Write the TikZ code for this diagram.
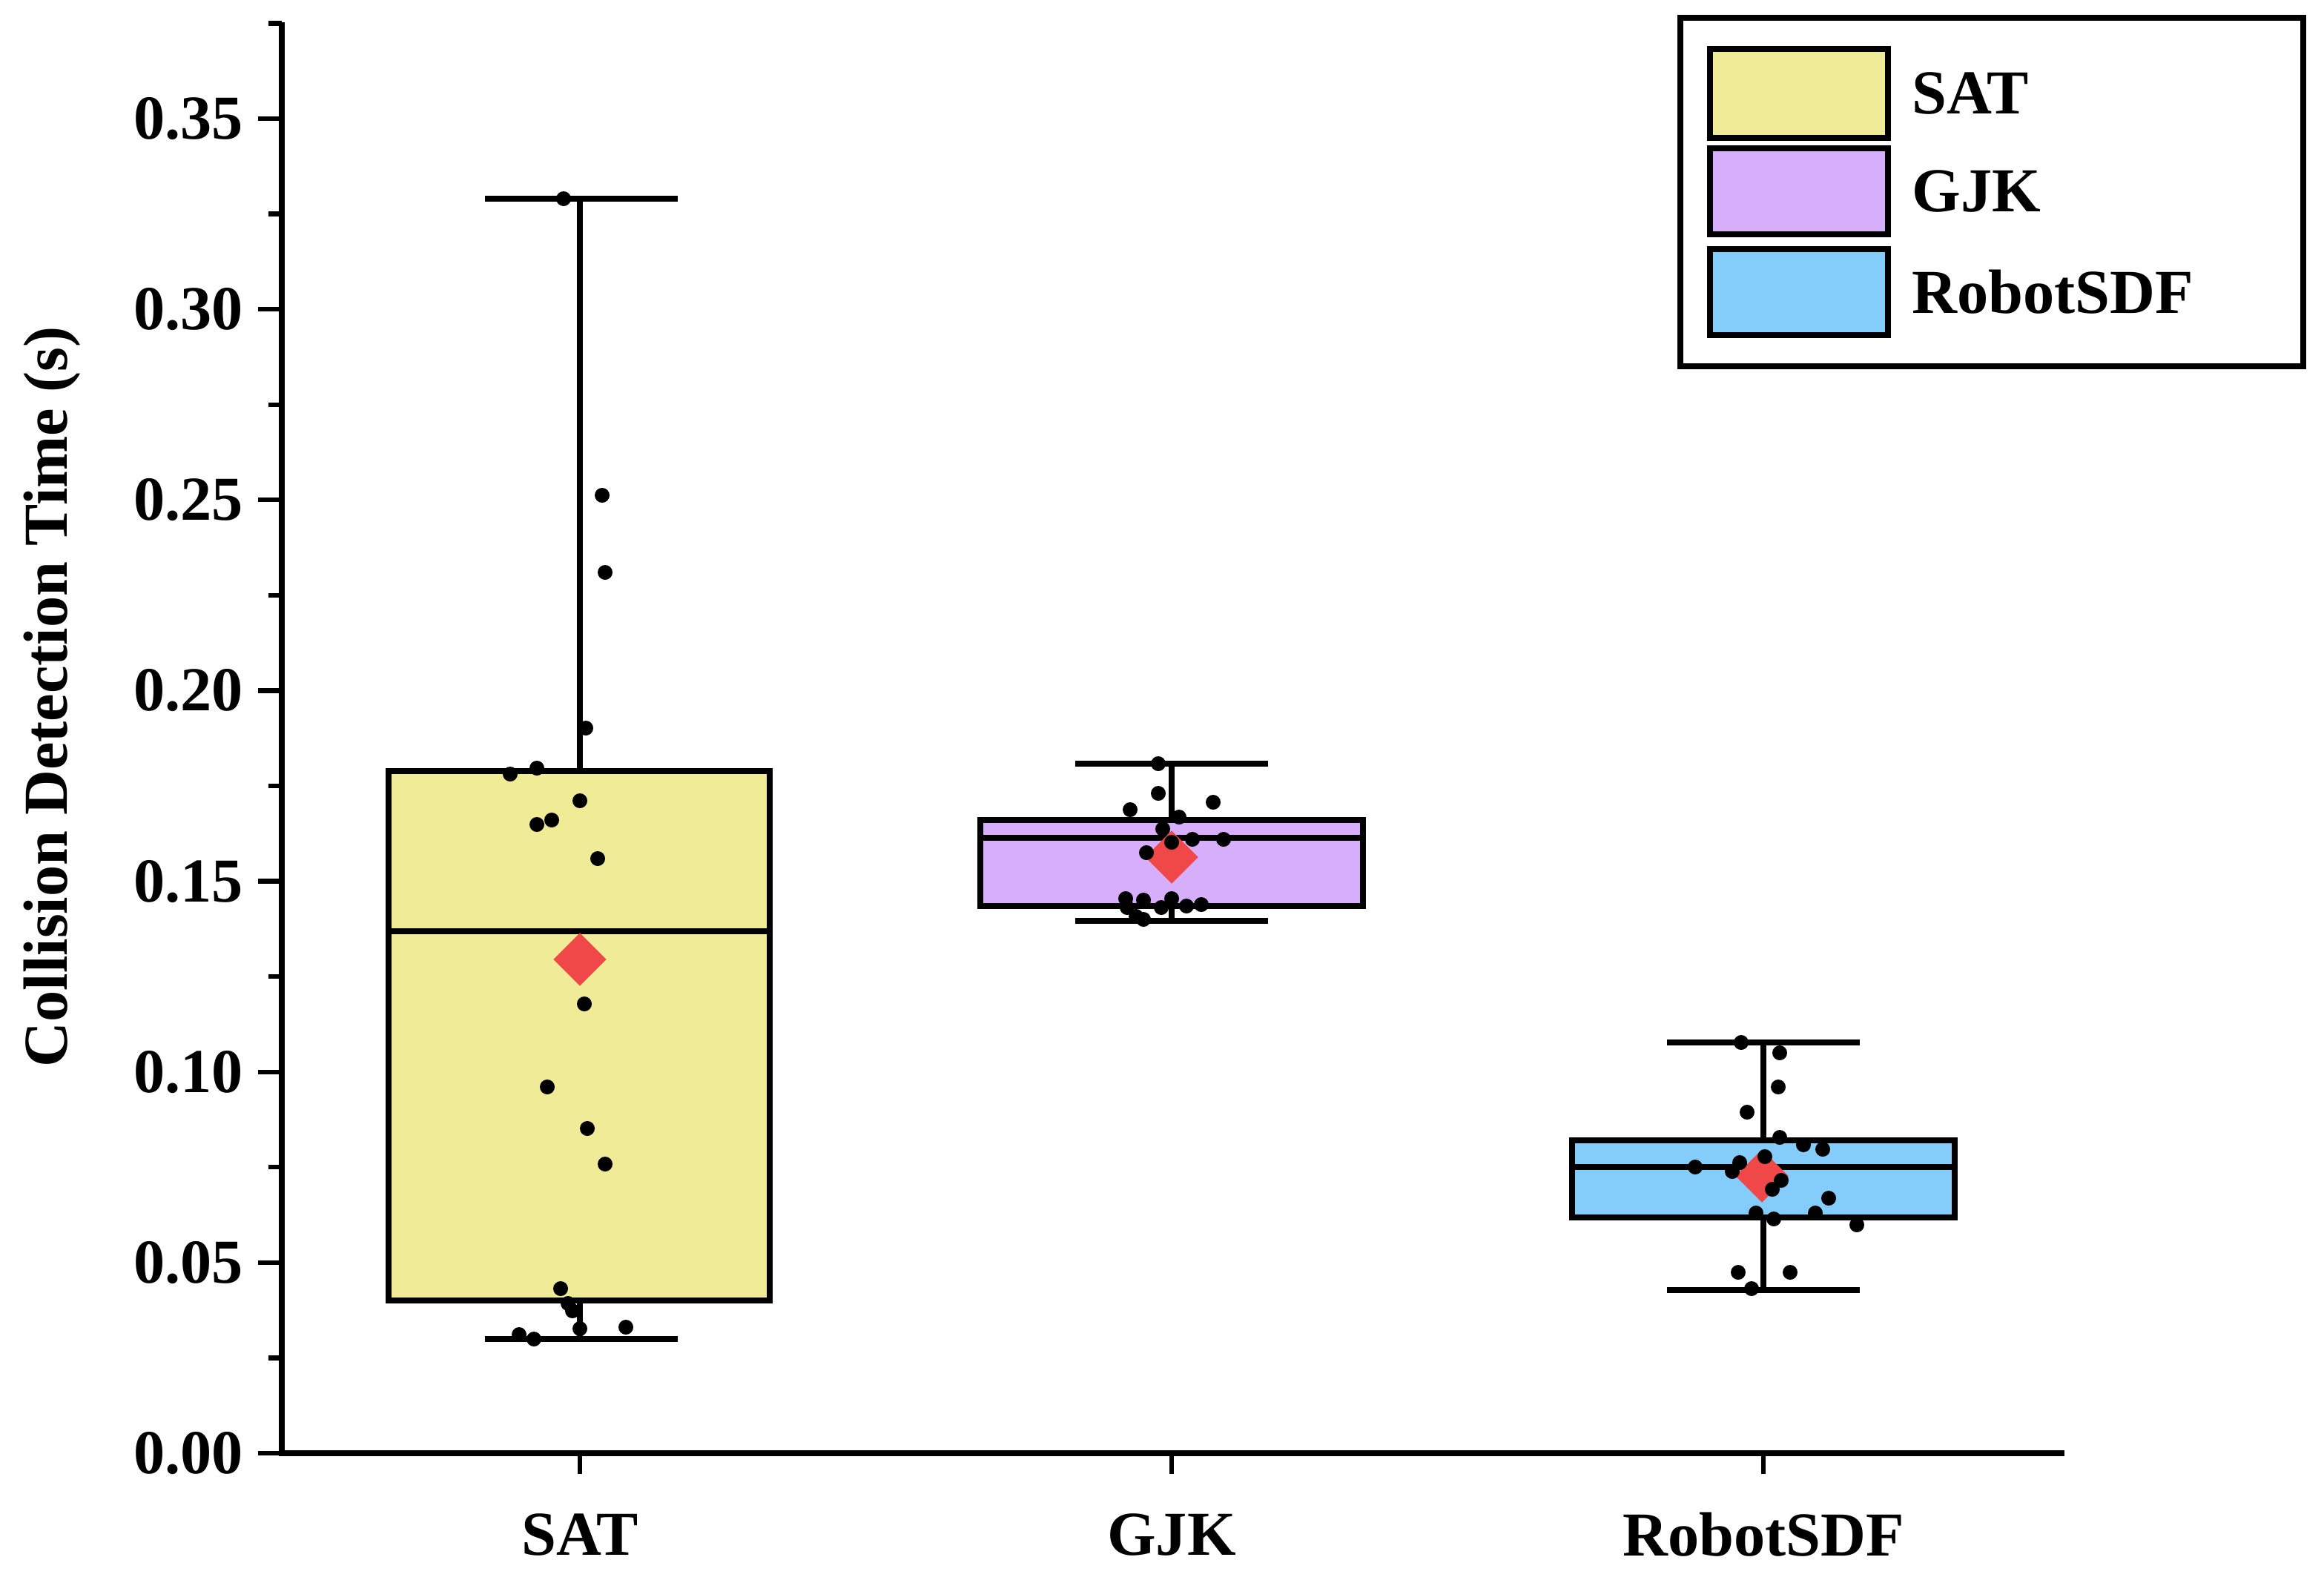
\documentclass[tikz,border=0pt]{standalone}
\usepackage{fontspec}
\setmainfont{Liberation Serif}
\usetikzlibrary{shapes.geometric}
\definecolor{cyel}{HTML}{F0EB96}
\definecolor{cpur}{HTML}{D6AEFA}
\definecolor{cblu}{HTML}{84CCFA}
\definecolor{cred}{HTML}{F04848}
\begin{document}
\begin{tikzpicture}[x=0.02cm,y=-0.02cm,
  ln/.style={line width=2.3pt,black},
  box/.style={ln,line join=miter},
  dot/.style={circle,fill=black,inner sep=0pt,minimum size=0.2cm},
  mean/.style={diamond,fill=cred,inner sep=0pt,minimum width=0.72cm,minimum height=0.72cm},
  lab/.style={font=\fontsize{24}{28}\selectfont\bfseries},
  tk/.style={line width=1.8pt}]
\useasboundingbox (0,0) rectangle (1567,1065);
% axes
\draw[ln] (190,15) -- (190,980) -- (1392,980);
\foreach \v/\t in {0/0.00,1/0.05,2/0.10,3/0.15,4/0.20,5/0.25,6/0.30,7/0.35}{
  \pgfmathsetmacro\yy{980-\v*128.57}
  \draw[tk] (174,\yy) -- (190,\yy);
  \node[lab,anchor=east] (yt\v) at (170,\yy) {\t};
  \pgfmathsetmacro\ym{980-\v*128.57-64.29}
  \draw[tk] (181,\ym) -- (190,\ym);
}
\node[lab,rotate=90] (ylab) at (35,470) {Collision Detection Time (s)};
\foreach \x/\n in {391/SAT,790/GJK,1189/RobotSDF}{
  \draw[tk] (\x,980) -- (\x,994);
  \node[lab] (xt\n) at (\x,1035) {\n};
}
% SAT
\draw[ln] (391,134) -- (391,520) (391,877) -- (391,903);
\draw[ln] (327,134) -- (457,134) (327,903) -- (457,903);
\draw[box,fill=cyel] (262,520) rectangle (519,877);
\draw[ln] (262,628) -- (519,628);
% GJK
\draw[ln] (790,515) -- (790,553) (790,611) -- (790,621);
\draw[ln] (725,515) -- (855,515) (725,621) -- (855,621);
\draw[box,fill=cpur] (661,553) rectangle (919,611);
\draw[ln] (661,565) -- (919,565);
% RobotSDF
\draw[ln] (1189,703) -- (1189,769) (1189,821) -- (1189,870);
\draw[ln] (1124,703) -- (1254,703) (1124,870) -- (1254,870);
\draw[box,fill=cblu] (1060,769) rectangle (1318,821);
\draw[ln] (1060,787) -- (1318,787);
% means
\node[mean] (m1) at (391,647) {};
\node[mean] (m2) at (790,578) {};
\node[mean] (m3) at (1188,793) {};
% points
\foreach \p in {(380,134),(406,334),(408,386),(395,491),(344,522),(362,518),(391,540),(362,556),(372,553),(403,579),(394,677),(369,733),(396,761),(408,785),(378,869),(383,879),(386,884),(391,896),(422,895),(350,900),(360,903),
(781,515),(762,546),(781,535),(818,541),(795,551),(784,559),(773,575),(804,566),(825,566),(790,568),(759,606),(771,607),(790,606),(810,610),(766,618),(783,612),(771,620),(800,611),(760,612),
(1174,703),(1200,710),(1199,733),(1178,750),(1200,767),(1143,787),(1173,784),(1190,780),(1201,796),(1216,772),(1229,775),(1195,802),(1184,818),(1196,822),(1224,818),(1233,808),(1252,826),(1172,858),(1207,858),(1181,869),(1168,790)}
  \node[dot] at \p {};
% legend
\draw[ln,fill=white] (1133,12) rectangle (1553,247);
\draw[box,fill=cyel] (1153,33) rectangle (1273,93);
\draw[box,fill=cpur] (1153,100) rectangle (1273,158);
\draw[box,fill=cblu] (1153,168) rectangle (1273,226);
\node[lab,anchor=west] (l1) at (1283,63) {SAT};
\node[lab,anchor=west] (l2) at (1283,129) {GJK};
\node[lab,anchor=west] (l3) at (1283,197) {RobotSDF};
\end{tikzpicture}
\end{document}
